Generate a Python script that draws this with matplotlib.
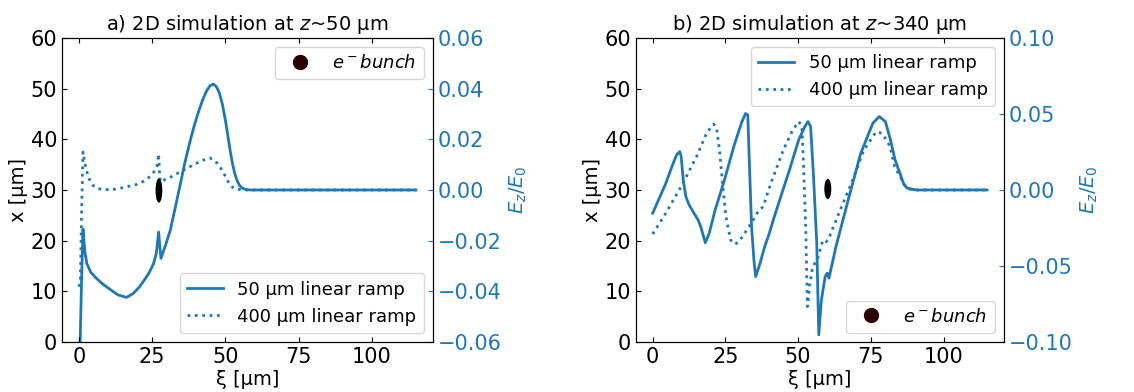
import matplotlib
matplotlib.use('Agg')
import matplotlib.pyplot as plt
from matplotlib.patches import Ellipse
from matplotlib.lines import Line2D

blue = '#1f77b4'
bunch_col = '#2a0000'

# panel a) z~50 um, Ez/E0 values
a_solid_xi = [0.4, 0.9, 1.4, 2.0, 2.7, 4.0, 5.9, 8.0, 10.1, 13.3, 16.3, 18.6, 20.7, 22.3, 23.9,
              25.5, 26.4, 26.9, 27.2, 27.6, 28.0, 29.5, 31.2, 32.8, 34.4, 36.0, 37.7, 39.3, 40.9,
              42.3, 43.6, 44.8, 45.9, 46.9, 47.9, 49.0, 50.0, 50.8, 51.6, 52.4, 53.2, 54.0, 54.8,
              55.9, 57.0, 58.5, 115]
a_solid_ez = [-0.062, -0.036, -0.0154, -0.024, -0.029, -0.0324, -0.0348, -0.037, -0.0388, -0.0414,
              -0.0424, -0.0408, -0.0382, -0.0356, -0.0328, -0.029, -0.025, -0.020, -0.0166, -0.022,
              -0.027, -0.022, -0.0158, -0.0074, 0.0012, 0.010, 0.0182, 0.0252, 0.0312, 0.0358,
              0.0392, 0.0412, 0.0418, 0.0408, 0.0384, 0.0336, 0.0274, 0.0216, 0.0156, 0.0104,
              0.0064, 0.0036, 0.0018, 0.0006, 0.0002, 0.0, 0.0]
a_dot_xi = [0.0, 0.5, 0.9, 1.4, 2.1, 3.2, 4.8, 6.5, 8.0, 11.2, 15.4, 19.7, 22.0, 23.9, 25.2, 26.1,
            26.7, 27.2, 27.5, 27.8, 29.5, 31.2, 34.0, 36.6, 39.5, 42.0, 44.6, 46.0, 47.3, 48.4,
            49.5, 50.6, 51.6, 53.0, 54.8, 56.5, 115]
a_dot_ez = [-0.0382, -0.036, -0.010, 0.015, 0.0104, 0.005, 0.0018, 0.0006, 0.0002, 0.0001, 0.001,
            0.0022, 0.0034, 0.005, 0.0066, 0.0078, 0.0096, 0.0142, 0.007, 0.0032, 0.0042, 0.005,
            0.0068, 0.0084, 0.0102, 0.0116, 0.0126, 0.012, 0.0104, 0.0086, 0.0064, 0.004, 0.0018,
            0.0006, 0.0002, 0.0, 0.0]
a_bunch = (27.3, 29.9, 2.3, 4.8)   # xi, x, width, height

# panel b) z~340 um, Ez/E0 values
b_solid_xi = [0, 2.3, 4.5, 6.6, 8.2, 9.3, 9.8, 10.5, 11.4, 12.4, 13.5, 15.6, 16.5, 17.2, 18.1,
              19.4, 21.5, 24.7, 27.9, 30.5, 31.9, 32.7, 33.2, 34.0, 34.8, 35.4, 36.9, 38.5, 40.0,
              41.7, 42.8, 45.0, 47.0, 50.2, 52.3, 53.4, 54.3, 55.3, 56.4, 57.1, 58.0, 59.3, 60.0,
              60.6, 63.0, 67.2, 71.5, 75.7, 77.9, 80.0, 81.7, 83.3, 85.0, 86.3, 87.4, 89.7, 91,
              115]
b_solid_ez = [-0.0153, -0.0053, 0.0043, 0.0153, 0.0230, 0.0253, 0.0220, 0.0067, -0.0043, -0.0093,
              -0.0130, -0.0197, -0.0240, -0.0287, -0.0347, -0.0287, -0.0130, 0.0067, 0.0287,
              0.0440, 0.0503, 0.0493, 0.0197, -0.0240, -0.0460, -0.0570, -0.0483, -0.0373,
              -0.0290, -0.0183, -0.0117, 0.0013, 0.0130, 0.0330, 0.0417, 0.0450, 0.0417, 0.0087,
              -0.0350, -0.0953, -0.0723, -0.0570, -0.0547, -0.0580, -0.0373, -0.0067, 0.0240,
              0.0440, 0.0483, 0.0450, 0.0333, 0.0200, 0.0110, 0.0040, 0.0013, 0.0003, 0.0, 0.0]
b_dot_xi = [0, 4.5, 9.8, 15.1, 18.3, 20.0, 21.0, 22.0, 23.1, 24.1, 25.2, 26.8, 28.4, 30.0, 33.2,
            36.4, 38.0, 40.6, 44.9, 48.1, 50.2, 51.3, 51.8, 52.6, 53.2, 53.9, 55.0, 56.6, 58.5,
            59.6, 60.3, 64.0, 68.3, 72.6, 76.8, 78.9, 81.6, 83.2, 85.0, 86.5, 88, 90, 115]
b_dot_ez = [-0.0290, -0.0153, 0.0023, 0.0220, 0.0363, 0.0413, 0.0433, 0.0407, 0.0240, 0.0023,
            -0.0177, -0.0330, -0.0357, -0.0330, -0.0240, -0.0137, -0.0110, 0.0043, 0.0263,
            0.0393, 0.0450, 0.0417, 0.0197, -0.0240, -0.0767, -0.0637, -0.0503, -0.0460,
            -0.0330, -0.0340, -0.0330, -0.0153, 0.0043, 0.0263, 0.0383, 0.0373, 0.0287, 0.0153,
            0.0090, 0.0033, 0.0007, 0.0, 0.0]
b_bunch = (60.2, 30.2, 2.4, 4.0)

plt.rcParams['font.size'] = 15
fig = plt.figure(figsize=(11.34, 3.92), dpi=100)

panels = [
    ([0.0547, 0.1276, 0.327, 0.7755], 'a) 2D simulation at $z$~50 µm', 0.06, 0.02,
     a_solid_xi, a_solid_ez, a_dot_xi, a_dot_ez, a_bunch, 'lower right', 'upper right'),
    ([0.5608, 0.1276, 0.3245, 0.7755], 'b) 2D simulation at $z$~340 µm', 0.10, 0.05,
     b_solid_xi, b_solid_ez, b_dot_xi, b_dot_ez, b_bunch, 'upper right', 'lower right'),
]

for rect, title, ezmax, ezstep, sx, sy, dx, dy, bunch, lines_loc, bunch_loc in panels:
    ax = fig.add_axes(rect)
    tw = ax.twinx()
    l1, = tw.plot(sx, sy, '-', color=blue, lw=2, label='50 µm linear ramp')
    l2, = tw.plot(dx, dy, ':', color=blue, lw=2, label='400 µm linear ramp')
    tw.set_ylim(-ezmax, ezmax)
    n = int(round(ezmax / ezstep))
    tw.set_yticks([round(k * ezstep, 3) for k in range(-n, n + 1)])
    tw.tick_params(axis='y', direction='in', colors=blue, labelcolor=blue)
    tw.set_ylabel('$E_z/E_0$', color=blue, fontsize=14)

    ax.set_zorder(tw.get_zorder() + 1)
    ax.patch.set_visible(False)
    ax.add_patch(Ellipse((bunch[0], bunch[1]), bunch[2], bunch[3], facecolor='black', edgecolor='none'))
    ax.set_xlim(-5.75, 120.75)
    ax.set_ylim(0, 60)
    ax.set_xticks([0, 25, 50, 75, 100])
    ax.set_yticks(range(0, 61, 10))
    ax.tick_params(direction='in', top=True)
    ax.set_xlabel('ξ [µm]', fontsize=14, labelpad=2)
    ax.set_ylabel('x [µm]', fontsize=14, labelpad=2)
    ax.set_title(title, fontsize=14)

    proxy = Line2D([], [], ls='none', marker='o', ms=10, color=bunch_col, label='$e^-bunch$')
    leg1 = ax.legend(handles=[proxy], loc=bunch_loc, fontsize=13)
    ax.add_artist(leg1)
    ax.legend(handles=[l1, l2], loc=lines_loc, fontsize=13)

fig.savefig('out.png', dpi=100)
